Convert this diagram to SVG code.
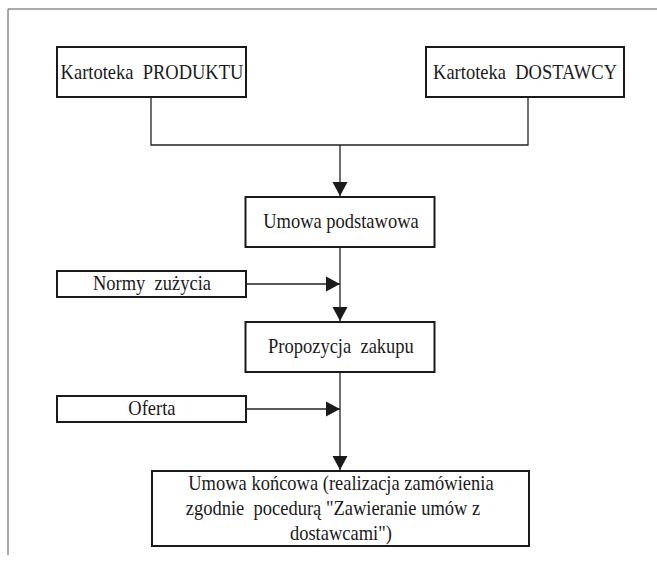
<svg xmlns="http://www.w3.org/2000/svg" width="657" height="563" viewBox="0 0 657 563">
<style>
.box{fill:#fff;stroke:#1a1a1a;stroke-width:2}
.lbl{font-family:"Liberation Serif","Times New Roman",serif;font-size:20px;fill:#1a1a1a;text-anchor:middle;white-space:pre}
.ln{fill:none;stroke:#222;stroke-width:1.3}
.frame{fill:none;stroke:#555;stroke-width:1}
</style>
<defs>
<marker id="ah" markerUnits="userSpaceOnUse" markerWidth="16" markerHeight="16" viewBox="0 0 16 16" refX="15" refY="8" orient="auto">
<path d="M1,0.5 L15,8 L1,15.5 Z" fill="#1a1a1a"/>
</marker>
</defs>
<path class="frame" d="M657,9 H8 V555"/>
<g id="connectors">
<path class="ln" d="M151,97 V145 H528 V97"/>
<path class="ln" d="M340,145 V196" marker-end="url(#ah)"/>
<path class="ln" d="M340,247 V321" marker-end="url(#ah)"/>
<path class="ln" d="M246,284 H340" marker-end="url(#ah)"/>
<path class="ln" d="M340,372 V470" marker-end="url(#ah)"/>
<path class="ln" d="M246,409 H340" marker-end="url(#ah)"/>
</g>
<g id="produkt">
<rect class="box" x="57" y="47" width="189" height="50"/>
<text class="lbl" transform="scale(0.925,1)" x="164.3" y="79">Kartoteka  PRODUKTU</text>
</g>
<g id="dostawca">
<rect class="box" x="426" y="47" width="198" height="50"/>
<text class="lbl" transform="scale(0.925,1)" x="567.6" y="79">Kartoteka  DOSTAWCY</text>
</g>
<g id="umowa-podst">
<rect class="box" x="245.5" y="197" width="189" height="50"/>
<text class="lbl" transform="scale(0.925,1)" x="368.6" y="228">Umowa podstawowa</text>
</g>
<g id="normy">
<rect class="box" x="57" y="271" width="189" height="26"/>
<text class="lbl" transform="scale(0.925,1)" x="164.3" y="290">Normy  zużycia</text>
</g>
<g id="propozycja">
<rect class="box" x="245.5" y="322" width="189" height="50"/>
<text class="lbl" transform="scale(0.925,1)" x="368.6" y="353">Propozycja  zakupu</text>
</g>
<g id="oferta">
<rect class="box" x="57" y="396" width="189" height="26"/>
<text class="lbl" transform="scale(0.925,1)" x="164.3" y="415">Oferta</text>
</g>
<g id="umowa-konc">
<rect class="box" x="152" y="471" width="377" height="75"/>
<text class="lbl" transform="scale(0.925,1)" x="368.6" y="490">Umowa końcowa (realizacja zamówienia</text>
<text class="lbl" transform="scale(0.925,1)" x="360" y="515">zgodnie  pocedurą "Zawieranie umów z</text>
<text class="lbl" transform="scale(0.925,1)" x="368.6" y="540">dostawcami")</text>
</g>
</svg>
